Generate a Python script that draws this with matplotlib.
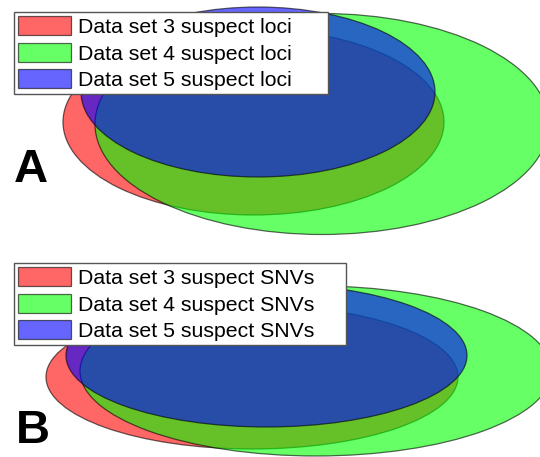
import matplotlib
matplotlib.use("Agg")
import matplotlib.pyplot as plt
from matplotlib.patches import Ellipse, Patch

plt.rcParams["font.family"] = ["Liberation Sans", "DejaVu Sans"]

# ---- data -------------------------------------------------------------
set_names = ["Data set 3", "Data set 4", "Data set 5"]
set_colors = [(1.0, 0.0, 0.0), (0.0, 1.0, 0.0), (0.0, 0.0, 1.0)]
panel_labels = ["A", "B"]
panel_suffix = ["suspect loci", "suspect SNVs"]

# ellipse geometry (centre x, centre y, full width, full height), pixel space
a_cx = [253.5, 322.0, 258.0]
a_cy = [122.0, 124.0, 92.0]
a_w = [381.0, 454.0, 354.0]
a_h = [186.0, 221.0, 170.0]

b_cx = [252.0, 316.0, 266.5]
b_cy = [377.0, 371.0, 355.5]
b_w = [412.0, 472.0, 401.0]
b_h = [144.0, 170.0, 143.0]

# ---- figure -----------------------------------------------------------
W, H = 540, 457
fig = plt.figure(figsize=(W / 100, H / 100), dpi=100)
fig.patch.set_facecolor("white")

panels = [
    dict(rect=[0, 217 / H, 1, 240 / H], ylim=(240, 0), cx=a_cx, cy=a_cy, w=a_w, h=a_h,
         leg=(13.8, 12.0, 314.0), lab=(14.0, 182.0)),
    dict(rect=[0, 0, 1, 217 / H], ylim=(457, 240), cx=b_cx, cy=b_cy, w=b_w, h=b_h,
         leg=(13.8, 263.0, 332.0), lab=(15.5, 443.0)),
]

alpha = 0.6
for i, p in enumerate(panels):
    ax = fig.add_axes(p["rect"])
    ax.set_xlim(0, W)
    ax.set_ylim(*p["ylim"])
    ax.axis("off")
    for cx, cy, w, h, col in zip(p["cx"], p["cy"], p["w"], p["h"], set_colors):
        ax.add_patch(Ellipse((cx, cy), w, h, facecolor=col, edgecolor="black",
                             linewidth=0.9, alpha=alpha))
    handles = [Patch(facecolor=col, edgecolor="black", linewidth=0.9, alpha=alpha)
               for col in set_colors]
    labels = [f"{n} {panel_suffix[i]}" for n in set_names]
    lx, ly, lw = p["leg"]
    leg = ax.legend(handles, labels, loc="upper left", mode="expand",
                    bbox_to_anchor=(lx / W, 1 - ly / H, lw / W, 0),
                    bbox_transform=fig.transFigure,
                    borderaxespad=0, fontsize=15.3, frameon=True, fancybox=False,
                    framealpha=1, edgecolor="#555555", handlelength=2.5,
                    handleheight=1.0, handletextpad=0.3, labelspacing=0.27,
                    borderpad=0.2)
    leg.get_frame().set_linewidth(1.0)
    ax.text(p["lab"][0], p["lab"][1], panel_labels[i], fontsize=34,
            fontweight="bold", ha="left", va="baseline", color="black")

fig.savefig("out.png", dpi=100, facecolor="white")
